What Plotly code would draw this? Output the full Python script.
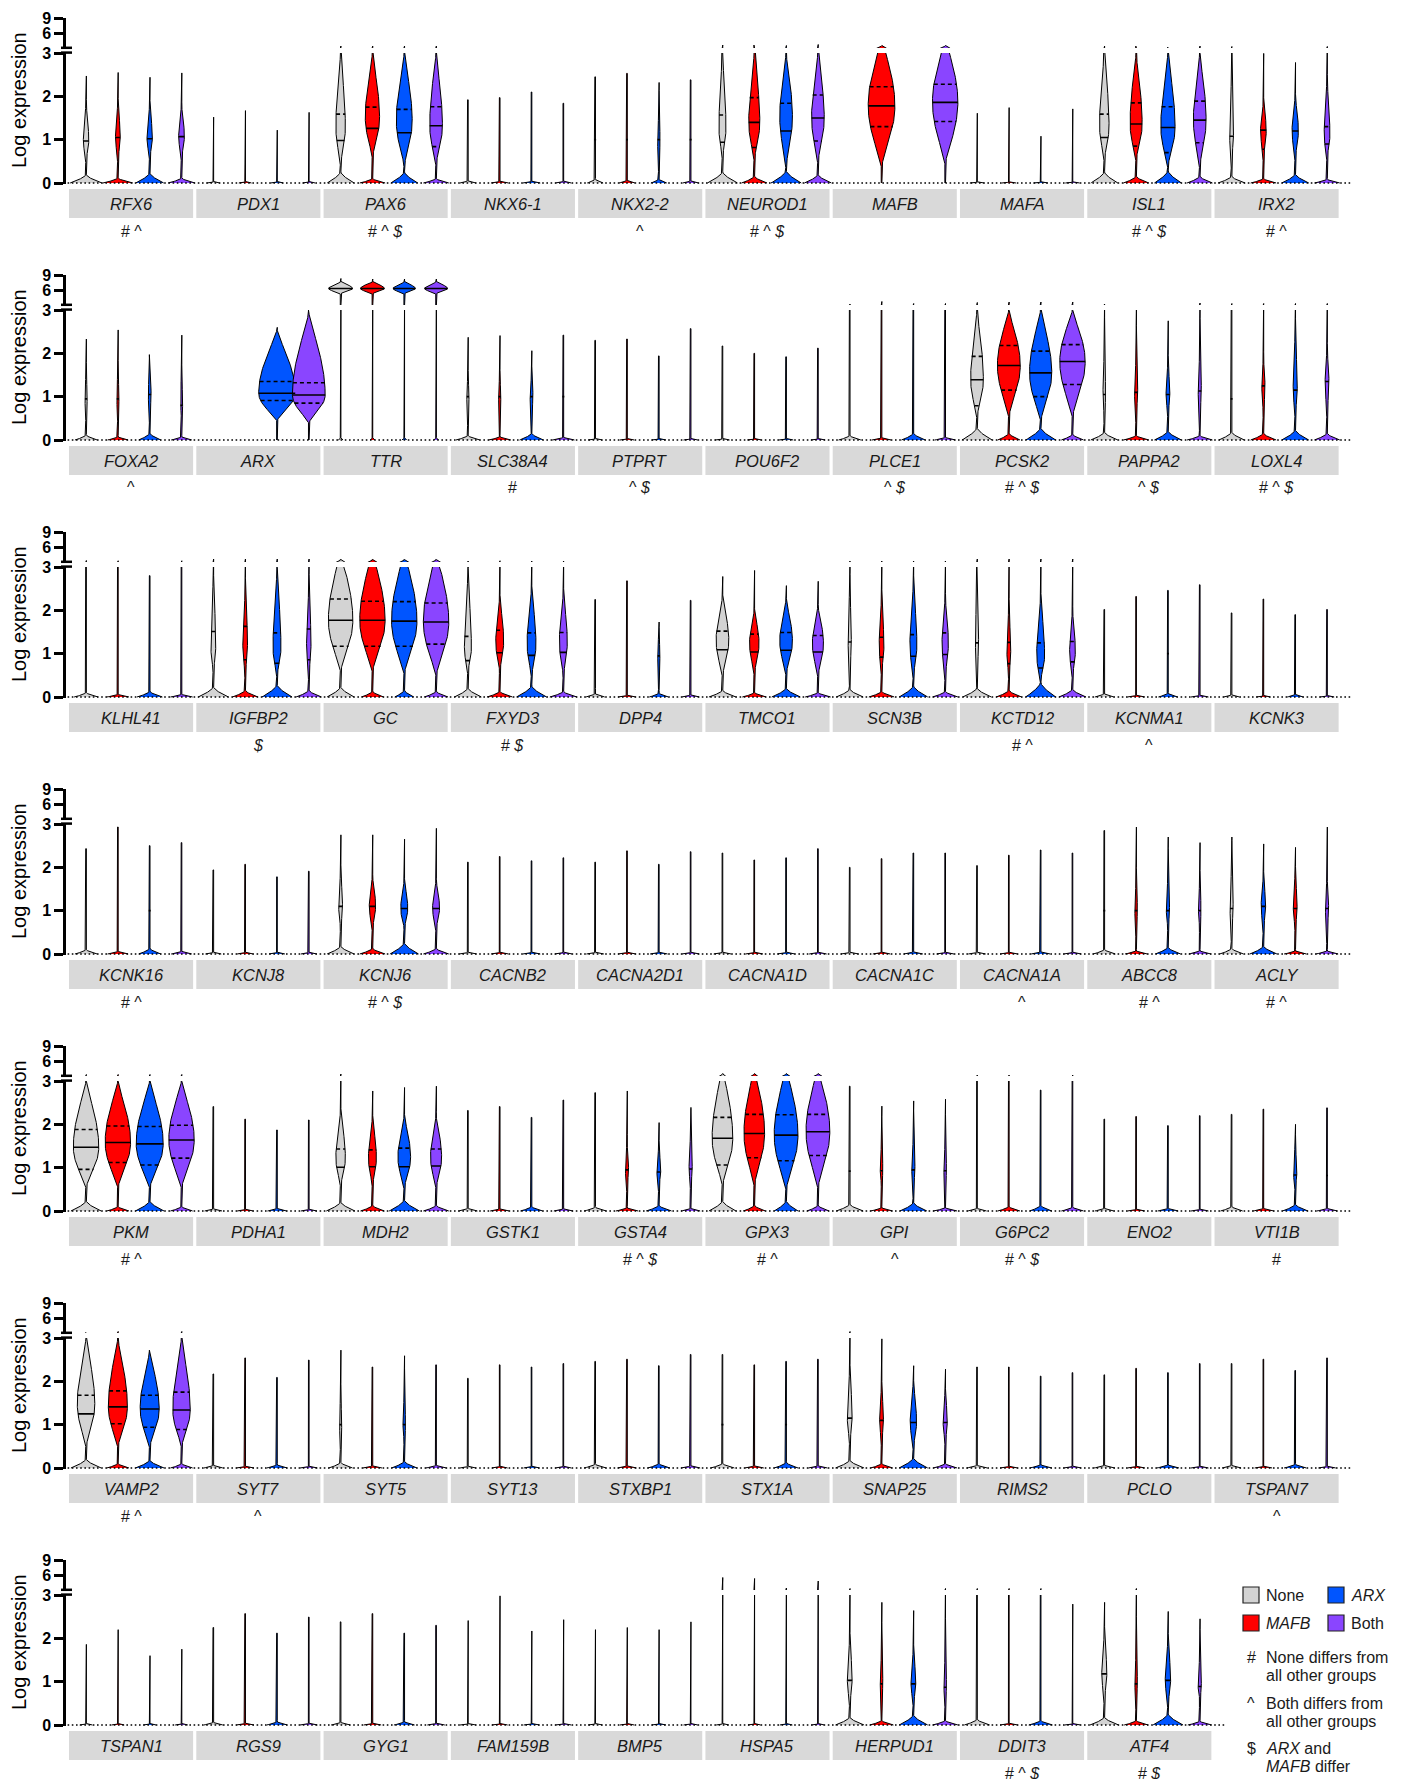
import numpy as np
import plotly.graph_objects as go

# ---------------- data ----------------
GROUPS = ["None", "MAFB", "ARX", "Both"]
COLORS = {"None": "#d3d3d3", "MAFB": "#ff0000", "ARX": "#0055ff", "Both": "#8a45ff"}
ORDER_OVERRIDE = {"ACLY": ["None", "ARX", "MAFB", "Both"]}

GENES = [
    ["RFX6", "PDX1", "PAX6", "NKX6-1", "NKX2-2", "NEUROD1", "MAFB", "MAFA", "ISL1", "IRX2"],
    ["FOXA2", "ARX", "TTR", "SLC38A4", "PTPRT", "POU6F2", "PLCE1", "PCSK2", "PAPPA2", "LOXL4"],
    ["KLHL41", "IGFBP2", "GC", "FXYD3", "DPP4", "TMCO1", "SCN3B", "KCTD12", "KCNMA1", "KCNK3"],
    ["KCNK16", "KCNJ8", "KCNJ6", "CACNB2", "CACNA2D1", "CACNA1D", "CACNA1C", "CACNA1A", "ABCC8", "ACLY"],
    ["PKM", "PDHA1", "MDH2", "GSTK1", "GSTA4", "GPX3", "GPI", "G6PC2", "ENO2", "VTI1B"],
    ["VAMP2", "SYT7", "SYT5", "SYT13", "STXBP1", "STX1A", "SNAP25", "RIMS2", "PCLO", "TSPAN7"],
    ["TSPAN1", "RGS9", "GYG1", "FAM159B", "BMP5", "HSPA5", "HERPUD1", "DDIT3", "ATF4"],
]
STATS = [
    ["# ^", "", "# ^ $", "", "^", "# ^ $", "", "", "# ^ $", "# ^"],
    ["^", "", "", "#", "^ $", "", "^ $", "# ^ $", "^ $", "# ^ $"],
    ["", "$", "", "# $", "", "", "", "# ^", "^", ""],
    ["# ^", "", "# ^ $", "", "", "", "", "^", "# ^", "# ^"],
    ["# ^", "", "", "", "# ^ $", "# ^", "^", "# ^ $", "", "#"],
    ["# ^", "^", "", "", "", "", "", "", "", "^"],
    ["", "", "", "", "", "", "", "# ^ $", "# $"],
]

# whisker top (log expression)
TOP = [
    [2.47, 2.55, 2.44, 2.54], [1.52, 1.67, 1.22, 1.63], [3.4, 3.4, 3.4, 3.4], [1.92, 1.97, 2.1, 1.84], [2.45, 2.53, 2.32, 2.38],
    [3.6, 3.6, 3.5, 3.7], [0, 3.5, 0, 3.5], [1.61, 1.74, 1.08, 1.71], [3.4, 3.4, 3.2, 3.4], [3.3, 2.99, 2.78, 3.3],
    [2.33, 2.54, 1.97, 2.42], [0, 0, 2.6, 3.0], [8.3, 8.2, 8.2, 8.2], [2.37, 2.41, 2.06, 2.42], [2.3, 2.33, 1.94, 2.57],
    [2.17, 2.0, 1.92, 2.12], [3.2, 3.7, 3.3, 3.3], [3.5, 3.6, 3.6, 3.6], [3.2, 3.0, 2.75, 3.4], [3.3, 3.3, 3.3, 3.3],
    [3.3, 3.25, 2.8, 3.25], [3.6, 3.6, 3.6, 3.6], [3.5, 3.5, 3.5, 3.5], [3.2, 3.25, 3.2, 3.2], [2.25, 2.68, 1.73, 2.23],
    [2.78, 2.92, 2.57, 2.67], [3.2, 3.2, 3.2, 3.2], [3.6, 3.6, 3.6, 3.6], [2.02, 2.32, 2.46, 2.59], [1.94, 2.26, 1.9, 2.02],
    [2.43, 2.93, 2.5, 2.57], [1.94, 2.07, 1.78, 1.91], [2.75, 2.75, 2.65, 2.9], [2.12, 2.25, 2.15, 2.22], [2.12, 2.38, 2.07, 2.36],
    [2.33, 2.17, 2.22, 2.43], [2.0, 2.2, 2.33, 2.33], [2.04, 2.28, 2.4, 2.33], [2.85, 2.93, 2.7, 2.57], [2.7, 2.54, 2.46, 2.93],
    [3.3, 3.3, 3.3, 3.3], [2.41, 2.12, 1.87, 2.1], [3.4, 2.77, 2.85, 2.88], [2.32, 2.41, 2.16, 2.56], [2.73, 2.77, 2.04, 2.39],
    [3.5, 3.5, 3.5, 3.5], [2.88, 2.42, 2.54, 2.58], [3.2, 3.2, 2.79, 3.2], [2.12, 2.18, 1.97, 2.2], [2.23, 2.35, 2.0, 2.38],
    [3.1, 3.3, 2.72, 3.3], [2.17, 2.54, 2.09, 2.49], [2.72, 2.33, 2.59, 2.38], [2.07, 2.38, 2.33, 2.41], [2.46, 2.51, 2.36, 2.62],
    [2.62, 2.38, 2.46, 2.51], [3.3, 2.98, 2.36, 2.28], [2.33, 2.33, 2.12, 2.2], [2.15, 2.3, 2.2, 2.41], [2.41, 2.51, 2.25, 2.54],
    [1.86, 2.2, 1.6, 1.75], [2.25, 2.57, 2.12, 2.49], [2.38, 2.57, 2.12, 2.3], [2.41, 2.98, 2.17, 2.43], [2.2, 2.25, 2.2, 2.38],
    [5.5, 5.3, 3.4, 4.8], [3.3, 2.83, 2.64, 3.3], [3.3, 3.3, 3.3, 2.79], [2.83, 3.3, 2.62, 2.45],
]
# zero-spike half width (fraction of half slot) and apparent height
ZW = [
    [1.0, 0.94, 0.88, 0.84], [0.4, 0.4, 0.4, 0.4], [0.85, 0.8, 0.85, 0.8], [0.5, 0.55, 0.55, 0.5], [0.5, 0.5, 0.5, 0.5],
    [0.95, 0.8, 0.95, 0.85], [0, 0, 0, 0], [0.45, 0.45, 0.45, 0.45], [0.85, 0.8, 0.85, 0.8], [0.85, 0.8, 0.85, 0.8],
    [0.7, 0.65, 0.7, 0.65], [0, 0, 0, 0], [0.15, 0.15, 0.15, 0.15], [0.75, 0.7, 0.75, 0.7], [0.45, 0.45, 0.45, 0.45],
    [0.45, 0.45, 0.45, 0.45], [0.7, 0.6, 0.75, 0.65], [0.95, 0.7, 0.95, 0.7], [0.85, 0.8, 0.85, 0.8], [0.8, 0.8, 0.85, 0.8],
    [0.75, 0.7, 0.8, 0.7], [0.95, 0.8, 0.95, 0.8], [0.85, 0.7, 0.6, 0.75], [0.85, 0.8, 0.95, 0.85], [0.6, 0.55, 0.6, 0.55],
    [0.85, 0.75, 0.9, 0.8], [0.85, 0.8, 0.9, 0.8], [0.9, 0.8, 0.95, 0.85], [0.6, 0.55, 0.6, 0.55], [0.5, 0.45, 0.5, 0.45],
    [0.7, 0.65, 0.7, 0.65], [0.5, 0.5, 0.5, 0.5], [0.85, 0.8, 0.9, 0.8], [0.55, 0.55, 0.55, 0.55], [0.55, 0.55, 0.55, 0.55],
    [0.55, 0.55, 0.55, 0.55], [0.55, 0.55, 0.6, 0.55], [0.55, 0.55, 0.6, 0.55], [0.7, 0.7, 0.8, 0.7], [0.75, 0.85, 0.7, 0.7],
    [0.95, 0.7, 0.9, 0.7], [0.55, 0.5, 0.6, 0.5], [0.9, 0.75, 0.95, 0.8], [0.6, 0.6, 0.7, 0.6], [0.7, 0.7, 0.8, 0.6],
    [0.85, 0.7, 0.75, 0.7], [0.85, 0.7, 0.85, 0.75], [0.6, 0.7, 0.7, 0.7], [0.6, 0.55, 0.65, 0.55], [0.7, 0.65, 0.8, 0.65],
    [0.95, 0.7, 0.9, 0.7], [0.6, 0.55, 0.65, 0.55], [0.75, 0.6, 0.8, 0.65], [0.5, 0.5, 0.5, 0.5], [0.7, 0.6, 0.7, 0.6],
    [0.75, 0.6, 0.75, 0.6], [0.9, 0.7, 0.9, 0.75], [0.65, 0.55, 0.7, 0.55], [0.65, 0.55, 0.7, 0.55], [0.6, 0.55, 0.7, 0.55],
    [0.4, 0.4, 0.4, 0.4], [0.6, 0.55, 0.65, 0.55], [0.6, 0.55, 0.65, 0.55], [0.5, 0.5, 0.5, 0.5], [0.45, 0.45, 0.45, 0.45],
    [0.4, 0.4, 0.4, 0.4], [0.9, 0.75, 0.9, 0.8], [0.8, 0.55, 0.75, 0.5], [0.9, 0.75, 0.95, 0.75],
]
ZH = [
    [0.15, 0.09, 0.18, 0.09], [0.02, 0.02, 0.02, 0.02], [0.2, 0.08, 0.2, 0.08], [0.04, 0.03, 0.03, 0.03], [0.07, 0.05, 0.07, 0.04],
    [0.2, 0.12, 0.22, 0.15], [0, 0, 0, 0], [0.015, 0.015, 0.015, 0.015], [0.2, 0.12, 0.22, 0.12], [0.12, 0.08, 0.16, 0.07],
    [0.09, 0.06, 0.12, 0.06], [0, 0, 0, 0], [0.04, 0.04, 0.04, 0.04], [0.08, 0.06, 0.12, 0.05], [0.02, 0.02, 0.02, 0.02],
    [0.02, 0.02, 0.02, 0.02], [0.08, 0.04, 0.12, 0.05], [0.22, 0.12, 0.22, 0.1], [0.14, 0.08, 0.16, 0.08], [0.14, 0.12, 0.18, 0.12],
    [0.08, 0.05, 0.1, 0.05], [0.18, 0.12, 0.22, 0.12], [0.18, 0.1, 0.12, 0.1], [0.16, 0.1, 0.2, 0.1], [0.06, 0.03, 0.07, 0.04],
    [0.12, 0.08, 0.16, 0.08], [0.14, 0.1, 0.2, 0.1], [0.16, 0.12, 0.26, 0.14], [0.06, 0.03, 0.07, 0.03], [0.04, 0.02, 0.05, 0.02],
    [0.08, 0.05, 0.1, 0.05], [0.03, 0.03, 0.03, 0.03], [0.14, 0.1, 0.2, 0.1], [0.03, 0.03, 0.03, 0.03], [0.03, 0.03, 0.03, 0.03],
    [0.03, 0.03, 0.03, 0.03], [0.03, 0.03, 0.04, 0.03], [0.03, 0.03, 0.04, 0.03], [0.08, 0.06, 0.12, 0.06], [0.1, 0.14, 0.06, 0.06],
    [0.18, 0.08, 0.18, 0.08], [0.04, 0.03, 0.05, 0.03], [0.16, 0.1, 0.2, 0.1], [0.05, 0.04, 0.08, 0.04], [0.07, 0.06, 0.1, 0.05],
    [0.18, 0.1, 0.18, 0.1], [0.12, 0.06, 0.15, 0.06], [0.05, 0.08, 0.1, 0.07], [0.05, 0.03, 0.05, 0.03], [0.08, 0.05, 0.12, 0.05],
    [0.16, 0.08, 0.14, 0.08], [0.05, 0.03, 0.06, 0.03], [0.1, 0.04, 0.12, 0.05], [0.03, 0.03, 0.03, 0.03], [0.07, 0.04, 0.08, 0.04],
    [0.08, 0.04, 0.1, 0.04], [0.14, 0.08, 0.18, 0.08], [0.05, 0.03, 0.06, 0.03], [0.05, 0.03, 0.06, 0.03], [0.05, 0.03, 0.07, 0.03],
    [0.02, 0.02, 0.02, 0.02], [0.05, 0.03, 0.06, 0.03], [0.05, 0.03, 0.06, 0.03], [0.02, 0.02, 0.02, 0.02], [0.02, 0.02, 0.02, 0.02],
    [0.02, 0.02, 0.02, 0.02], [0.14, 0.08, 0.18, 0.08], [0.1, 0.03, 0.08, 0.02], [0.14, 0.08, 0.2, 0.07],
]
# body: max half width (fraction of half slot), lower / upper extent
BW = [
    [0.17, 0.15, 0.17, 0.18], [0, 0, 0, 0], [0.3, 0.45, 0.5, 0.4], [0.05, 0.03, 0.04, 0.03], [0.06, 0.06, 0.08, 0.06],
    [0.22, 0.35, 0.4, 0.4], [0, 0.84, 0, 0.8], [0, 0, 0, 0], [0.3, 0.38, 0.45, 0.4], [0.12, 0.18, 0.2, 0.18],
    [0.07, 0.07, 0.09, 0.07], [0, 0, 1.15, 1.03], [0.75, 0.75, 0.7, 0.72], [0.07, 0.07, 0.09, 0.06], [0.03, 0.03, 0.03, 0.03],
    [0.03, 0.03, 0.03, 0.03], [0.04, 0.04, 0.04, 0.04], [0.4, 0.72, 0.7, 0.8], [0.08, 0.1, 0.12, 0.1], [0.06, 0.1, 0.13, 0.12],
    [0.04, 0.04, 0.04, 0.04], [0.15, 0.15, 0.25, 0.14], [0.77, 0.8, 0.8, 0.8], [0.22, 0.25, 0.28, 0.25], [0.04, 0.04, 0.07, 0.04],
    [0.4, 0.3, 0.4, 0.35], [0.1, 0.15, 0.22, 0.2], [0.1, 0.12, 0.25, 0.18], [0.04, 0.04, 0.06, 0.04], [0.03, 0.03, 0.03, 0.03],
    [0.05, 0.05, 0.06, 0.05], [0.03, 0.03, 0.03, 0.03], [0.12, 0.2, 0.22, 0.22], [0.03, 0.03, 0.03, 0.03], [0.03, 0.03, 0.03, 0.03],
    [0.03, 0.03, 0.03, 0.03], [0.03, 0.03, 0.03, 0.03], [0.03, 0.03, 0.03, 0.03], [0.06, 0.08, 0.1, 0.08], [0.1, 0.14, 0.12, 0.1],
    [0.8, 0.8, 0.85, 0.8], [0.04, 0.04, 0.04, 0.04], [0.3, 0.25, 0.4, 0.35], [0.04, 0.04, 0.04, 0.04], [0.04, 0.1, 0.12, 0.1],
    [0.65, 0.65, 0.75, 0.75], [0.06, 0.08, 0.1, 0.08], [0.04, 0.04, 0.04, 0.04], [0.03, 0.03, 0.03, 0.03], [0.05, 0.05, 0.1, 0.06],
    [0.55, 0.6, 0.6, 0.55], [0.04, 0.04, 0.04, 0.04], [0.07, 0.04, 0.08, 0.05], [0.03, 0.03, 0.03, 0.03], [0.05, 0.05, 0.05, 0.05],
    [0.06, 0.04, 0.06, 0.04], [0.15, 0.12, 0.2, 0.13], [0.04, 0.04, 0.04, 0.04], [0.04, 0.04, 0.04, 0.04], [0.04, 0.04, 0.04, 0.04],
    [0, 0, 0, 0], [0.04, 0.04, 0.04, 0.04], [0.04, 0.04, 0.04, 0.04], [0.02, 0.02, 0.02, 0.02], [0.02, 0.02, 0.02, 0.02],
    [0, 0, 0, 0], [0.15, 0.08, 0.15, 0.08], [0.04, 0.03, 0.03, 0.02], [0.16, 0.08, 0.17, 0.1],
]
LO = [
    [0.55, 0.55, 0.6, 0.6], [0.6, 0.6, 0.6, 0.6], [0.45, 0.6, 0.4, 0.45], [0.6, 0.6, 0.6, 0.6], [0.5, 0.5, 0.5, 0.5],
    [0.6, 0.55, 0.4, 0.5], [0, 0.38, 0, 0.45], [0.6, 0.6, 0.6, 0.6], [0.55, 0.55, 0.4, 0.4], [0.6, 0.6, 0.6, 0.6],
    [0.6, 0.6, 0.6, 0.6], [0, 0, 0.45, 0.4], [5.3, 5.3, 5.3, 5.3], [0.6, 0.6, 0.6, 0.6], [0.6, 0.6, 0.6, 0.6],
    [0.6, 0.6, 0.6, 0.6], [0.6, 0.6, 0.6, 0.6], [0.55, 0.55, 0.45, 0.55], [0.5, 0.6, 0.6, 0.6], [0.6, 0.6, 0.6, 0.6],
    [0.6, 0.6, 0.6, 0.6], [0.6, 0.5, 0.5, 0.5], [0.6, 0.6, 0.55, 0.5], [0.6, 0.6, 0.5, 0.5], [0.6, 0.6, 0.6, 0.6],
    [0.5, 0.55, 0.55, 0.5], [0.6, 0.6, 0.5, 0.5], [0.6, 0.5, 0.4, 0.5], [0.6, 0.6, 0.6, 0.6], [0.6, 0.6, 0.6, 0.6],
    [0.6, 0.6, 0.6, 0.6], [0.6, 0.6, 0.6, 0.6], [0.6, 0.6, 0.6, 0.6], [0.6, 0.6, 0.6, 0.6], [0.6, 0.6, 0.6, 0.6],
    [0.6, 0.6, 0.6, 0.6], [0.6, 0.6, 0.6, 0.6], [0.6, 0.6, 0.6, 0.6], [0.6, 0.6, 0.6, 0.6], [0.6, 0.6, 0.6, 0.6],
    [0.55, 0.55, 0.55, 0.55], [0.6, 0.6, 0.6, 0.6], [0.6, 0.6, 0.55, 0.55], [0.6, 0.6, 0.6, 0.6], [0.6, 0.6, 0.6, 0.6],
    [0.6, 0.6, 0.5, 0.55], [0.6, 0.6, 0.6, 0.6], [0.6, 0.6, 0.6, 0.6], [0.6, 0.6, 0.6, 0.6], [0.6, 0.6, 0.6, 0.6],
    [0.5, 0.5, 0.5, 0.5], [0.6, 0.6, 0.6, 0.6], [0.6, 0.6, 0.6, 0.6], [0.6, 0.6, 0.6, 0.6], [0.6, 0.6, 0.6, 0.6],
    [0.6, 0.6, 0.6, 0.6], [0.6, 0.6, 0.5, 0.6], [0.6, 0.6, 0.6, 0.6], [0.6, 0.6, 0.6, 0.6], [0.6, 0.6, 0.6, 0.6],
    [0.6, 0.6, 0.6, 0.6], [0.6, 0.6, 0.6, 0.6], [0.6, 0.6, 0.6, 0.6], [0.6, 0.6, 0.6, 0.6], [0.6, 0.6, 0.6, 0.6],
    [0.6, 0.6, 0.6, 0.6], [0.5, 0.6, 0.5, 0.6], [0.6, 0.6, 0.6, 0.6], [0.6, 0.6, 0.5, 0.6],
]
HI = [
    [1.85, 1.85, 1.8, 1.8], [1.5, 1.5, 1.5, 1.5], [3.0, 3.0, 3.0, 3.0], [1.5, 1.5, 1.5, 1.5], [1.6, 1.6, 1.6, 1.6],
    [3.0, 3.0, 3.0, 3.0], [0, 3.4, 0, 3.4], [1.5, 1.5, 1.5, 1.5], [3.0, 3.0, 3.0, 3.0], [2.5, 1.85, 2.0, 2.4],
    [1.6, 1.6, 1.6, 1.6], [0, 0, 2.55, 2.95], [7.6, 7.6, 7.6, 7.6], [1.5, 1.5, 1.5, 1.5], [1.5, 1.5, 1.5, 1.5],
    [1.5, 1.5, 1.5, 1.5], [1.5, 1.5, 1.5, 1.5], [3.0, 3.0, 3.0, 3.0], [2.1, 1.9, 1.8, 2.0], [2.4, 1.9, 2.5, 2.1],
    [1.5, 1.5, 1.5, 1.5], [2.8, 2.4, 2.9, 2.5], [3.4, 3.4, 3.4, 3.4], [2.8, 2.3, 2.5, 2.4], [1.5, 1.5, 1.5, 1.5],
    [2.3, 2.0, 2.25, 2.1], [2.6, 2.3, 2.6, 2.3], [2.6, 2.1, 2.3, 2.0], [1.5, 1.5, 1.5, 1.5], [1.5, 1.5, 1.5, 1.5],
    [1.6, 1.6, 1.6, 1.6], [1.5, 1.5, 1.5, 1.5], [1.9, 1.8, 1.7, 1.7], [1.5, 1.5, 1.5, 1.5], [1.5, 1.5, 1.5, 1.5],
    [1.5, 1.5, 1.5, 1.5], [1.5, 1.5, 1.5, 1.5], [1.5, 1.5, 1.5, 1.5], [1.7, 1.7, 1.8, 1.7], [2.0, 1.8, 1.9, 1.8],
    [3.0, 3.0, 3.0, 3.0], [1.5, 1.5, 1.5, 1.5], [2.3, 2.15, 2.2, 2.2], [1.5, 1.5, 1.5, 1.5], [1.6, 1.6, 1.5, 1.8],
    [3.35, 3.35, 3.35, 3.35], [1.8, 1.6, 1.7, 1.6], [1.5, 1.5, 1.5, 1.5], [1.5, 1.5, 1.5, 1.5], [1.5, 1.5, 1.6, 1.5],
    [3.0, 3.0, 2.7, 3.0], [1.5, 1.5, 1.5, 1.5], [1.7, 1.5, 1.7, 1.5], [1.5, 1.5, 1.5, 1.5], [1.6, 1.6, 1.6, 1.6],
    [1.6, 1.6, 1.6, 1.6], [2.3, 1.9, 2.0, 1.8], [1.5, 1.5, 1.5, 1.5], [1.5, 1.5, 1.5, 1.5], [1.5, 1.5, 1.5, 1.5],
    [1.5, 1.5, 1.5, 1.5], [1.5, 1.5, 1.5, 1.5], [1.5, 1.5, 1.5, 1.5], [1.5, 1.5, 1.5, 1.5], [1.5, 1.5, 1.5, 1.5],
    [1.5, 1.5, 1.5, 1.5], [2.0, 1.7, 1.75, 1.65], [1.5, 1.5, 1.5, 1.5], [2.1, 1.7, 1.95, 1.6],
]
MED = [
    [0.97, 1.05, 1.02, 1.07], [0, 0, 0, 0], [0.98, 1.26, 1.16, 1.32], [1.0, 1.0, 1.0, 1.0], [1.0, 1.0, 1.0, 1.0],
    [0.94, 1.4, 1.2, 1.5], [0, 1.78, 0, 1.86], [0, 0, 0, 0], [1.05, 1.36, 1.28, 1.45], [1.08, 1.22, 1.2, 0.9],
    [0.95, 0.95, 1.05, 0.8], [0, 0, 1.08, 1.04], [6.3, 6.3, 6.3, 6.3], [1.0, 1.0, 1.0, 1.0], [1.0, 1.0, 1.0, 1.0],
    [1.0, 1.0, 1.0, 1.0], [1.0, 1.0, 1.0, 1.0], [1.39, 1.72, 1.55, 1.81], [1.05, 1.1, 1.05, 1.13], [0.95, 1.25, 1.15, 1.35],
    [1.0, 1.0, 1.0, 1.0], [0.74, 0.86, 0.78, 0.86], [1.77, 1.77, 1.75, 1.73], [0.84, 1.02, 0.96, 1.03], [1.0, 1.0, 0.95, 1.0],
    [1.09, 1.04, 1.08, 1.04], [1.27, 0.92, 0.94, 0.98], [1.25, 0.77, 0.67, 0.81], [1.0, 1.0, 1.0, 1.0], [1.0, 1.0, 1.0, 1.0],
    [1.0, 1.0, 1.0, 1.0], [1.0, 1.0, 1.0, 1.0], [1.1, 1.1, 1.05, 1.05], [1.0, 1.0, 1.0, 1.0], [1.0, 1.0, 1.0, 1.0],
    [1.0, 1.0, 1.0, 1.0], [1.0, 1.0, 1.0, 1.0], [1.0, 1.0, 1.0, 1.0], [1.0, 1.0, 1.0, 1.0], [1.05, 1.1, 1.05, 1.05],
    [1.47, 1.58, 1.55, 1.64], [1.0, 1.0, 1.0, 1.0], [1.01, 1.02, 1.02, 1.04], [1.0, 1.0, 1.0, 1.0], [0.85, 0.95, 0.9, 0.97],
    [1.68, 1.79, 1.75, 1.83], [0.92, 0.93, 0.95, 0.93], [1.0, 1.0, 1.0, 1.0], [1.0, 1.0, 1.0, 1.0], [0.95, 1.0, 0.83, 0.82],
    [1.25, 1.41, 1.36, 1.34], [0.95, 0.95, 0.95, 0.95], [1.0, 1.0, 1.0, 1.0], [1.0, 1.0, 1.0, 1.0], [1.0, 1.0, 1.0, 1.0],
    [1.0, 1.0, 1.0, 1.0], [1.15, 1.1, 1.05, 1.05], [1.0, 1.0, 1.0, 1.0], [1.0, 1.0, 1.0, 1.0], [1.0, 1.0, 1.0, 1.0],
    [0, 0, 0, 0], [1.0, 1.0, 1.0, 1.0], [1.0, 1.0, 1.0, 1.0], [1.0, 1.0, 1.0, 1.0], [1.0, 1.0, 1.0, 1.0],
    [0, 0, 0, 0], [1.03, 0.95, 0.95, 0.87], [1.0, 1.0, 0.95, 1.0], [1.18, 0.95, 1.03, 0.89],
]
Q1 = [
    [0, 0, 0, 0], [0, 0, 0, 0], [0, 0, 0, 0.84], [0, 0, 0, 0], [0, 0, 0, 0],
    [0, 0.82, 0, 0.97], [0, 1.3, 0, 1.42], [0, 0, 0, 0], [0, 0.85, 0.7, 0.93], [0, 0.78, 0.68, 0],
    [0, 0, 0, 0], [0, 0, 0.91, 0.85], [0, 0, 0, 0], [0, 0, 0, 0], [0, 0, 0, 0],
    [0, 0, 0, 0], [0, 0, 0, 0], [0.79, 1.15, 1.0, 1.28], [0, 0, 0, 0], [0, 0, 0, 0],
    [0, 0, 0, 0], [0, 0, 0, 0], [1.17, 1.17, 1.17, 1.22], [0, 0, 0, 0], [0, 0, 0, 0],
    [0, 0, 0, 0], [0, 0, 0, 0], [0, 0, 0, 0], [0, 0, 0, 0], [0, 0, 0, 0],
    [0, 0, 0, 0], [0, 0, 0, 0], [0, 0, 0, 0], [0, 0, 0, 0], [0, 0, 0, 0],
    [0, 0, 0, 0], [0, 0, 0, 0], [0, 0, 0, 0], [0, 0, 0, 0], [0, 0, 0, 0],
    [0.96, 1.12, 1.06, 1.22], [0, 0, 0, 0], [0, 0, 0, 0], [0, 0, 0, 0], [0, 0, 0, 0],
    [1.06, 1.23, 1.16, 1.28], [0, 0, 0, 0], [0, 0, 0, 0], [0, 0, 0, 0], [0, 0, 0, 0],
    [0, 1.02, 0.94, 0.89], [0, 0, 0, 0], [0, 0, 0, 0], [0, 0, 0, 0], [0, 0, 0, 0],
    [0, 0, 0, 0], [0, 0, 0, 0], [0, 0, 0, 0], [0, 0, 0, 0], [0, 0, 0, 0],
    [0, 0, 0, 0], [0, 0, 0, 0], [0, 0, 0, 0], [0, 0, 0, 0], [0, 0, 0, 0],
    [0, 0, 0, 0], [0, 0, 0, 0], [0, 0, 0, 0], [0, 0, 0, 0],
]
Q3 = [
    [0, 0, 0, 0], [0, 0, 0, 0], [1.59, 1.75, 1.7, 1.76], [0, 0, 0, 0], [0, 0, 0, 0],
    [1.57, 1.97, 1.84, 2.03], [0, 2.22, 0, 2.28], [0, 0, 0, 0], [1.59, 1.85, 1.76, 1.89], [0, 0, 0, 1.3],
    [0, 0, 0, 0], [0, 0, 1.35, 1.32], [0, 0, 0, 0], [0, 0, 0, 0], [0, 0, 0, 0],
    [0, 0, 0, 0], [0, 0, 0, 0], [1.93, 2.18, 2.05, 2.2], [0, 0, 0, 0], [0, 0, 0, 0],
    [0, 0, 0, 0], [1.51, 1.63, 1.48, 1.57], [2.26, 2.21, 2.2, 2.17], [1.4, 1.54, 1.48, 1.49], [0, 0, 0, 0],
    [1.52, 1.45, 1.49, 1.42], [0, 1.38, 1.44, 1.48], [0, 1.26, 1.25, 1.28], [0, 0, 0, 0], [0, 0, 0, 0],
    [0, 0, 0, 0], [0, 0, 0, 0], [0, 0, 0, 0], [0, 0, 0, 0], [0, 0, 0, 0],
    [0, 0, 0, 0], [0, 0, 0, 0], [0, 0, 0, 0], [0, 0, 0, 0], [0, 0, 0, 0],
    [1.88, 1.96, 1.95, 1.98], [0, 0, 0, 0], [1.43, 1.41, 1.45, 1.43], [0, 0, 0, 0], [0, 0, 0, 0],
    [2.16, 2.23, 2.22, 2.23], [0, 0, 0, 0], [0, 0, 0, 0], [0, 0, 0, 0], [0, 0, 0, 0],
    [1.68, 1.78, 1.68, 1.75], [0, 0, 0, 0], [0, 0, 0, 0], [0, 0, 0, 0], [0, 0, 0, 0],
    [0, 0, 0, 0], [0, 0, 0, 0], [0, 0, 0, 0], [0, 0, 0, 0], [0, 0, 0, 0],
    [0, 0, 0, 0], [0, 0, 0, 0], [0, 0, 0, 0], [0, 0, 0, 0], [0, 0, 0, 0],
    [0, 0, 0, 0], [0, 0, 0, 0], [0, 0, 0, 0], [0, 0, 0, 0],
]
LOWER_TICKS = [0, 1, 2, 3]
UPPER_TICKS = [6, 9]

# ---------------- geometry (reference pixels; page body adds 8 px) ----------------
W, H = 1410, 1779
PAGE_OFF = 8
ROW_STEP = 257
X_AXIS_PX = 66.0
SLOT_PX = 31.82
X0_DATA = -0.63
X1_DATA = 40.0
MINW = 0.02
BREAK = 3.0
FONT = "Arial, Liberation Sans, sans-serif"


def py(p):
    return 1 - (p - PAGE_OFF) / H


def pxp(p):
    return (p - PAGE_OFF) / W


def half_width(y, zw, zh, bw, lo, hi, pk):
    w = np.full_like(y, MINW)
    if zw > 0 and zh > 0:
        s = np.clip(1 - y / (1.3 * zh), 0, None)
        w = np.maximum(w, zw * s ** 1.5)
    if bw > 0 and hi > lo:
        pk = min(max(pk, lo + 0.05 * (hi - lo)), hi - 0.05 * (hi - lo))
        u = np.where(y <= pk, (y - lo) / (pk - lo), (hi - y) / (hi - pk))
        u = np.clip(u, 0, 1)
        w = np.maximum(w, bw * (0.5 - 0.5 * np.cos(np.pi * u)) ** 0.6)
    return 0.5 * w


fig = go.Figure()
layout = {}
shapes = []
annotations = []

gi = 0
for r, genes in enumerate(GENES):
    off = r * ROW_STEP
    xname = "x" if r == 0 else f"x{r + 1}"
    xkey = "xaxis" if r == 0 else f"xaxis{r + 1}"
    ylo_i, yup_i = 2 * r + 1, 2 * r + 2
    ylo_name = "y" if ylo_i == 1 else f"y{ylo_i}"
    yup_name = f"y{yup_i}"
    ylo_key = "yaxis" if ylo_i == 1 else f"yaxis{ylo_i}"
    yup_key = f"yaxis{yup_i}"

    x_end_px = X_AXIS_PX + (X1_DATA - X0_DATA) * SLOT_PX
    layout[xkey] = dict(domain=[pxp(X_AXIS_PX), pxp(x_end_px)], range=[X0_DATA, X1_DATA],
                        visible=False, anchor=ylo_name, automargin=False)
    axis_common = dict(showline=True, linecolor="black", linewidth=2.5, ticks="outside",
                       ticklen=9, tickwidth=2.5, tickcolor="black", showgrid=False,
                       zeroline=False, anchor=xname, automargin=False,
                       tickfont=dict(family=FONT, size=16, color="black"))
    layout[ylo_key] = dict(domain=[py(184.3 + off), py(53 + off)], range=[-0.03, 3],
                           tickvals=LOWER_TICKS, ticktext=[f"<b>{v}</b>" for v in LOWER_TICKS], **axis_common)
    layout[yup_key] = dict(domain=[py(48 + off), py(18 + off)], range=[3, 9],
                           tickvals=UPPER_TICKS, ticktext=[f"<b>{v}</b>" for v in UPPER_TICKS], **axis_common)

    polys = {g: {"lo": ([], []), "up": ([], [])} for g in GROUPS}
    med_seg = {"lo": ([], []), "up": ([], [])}
    q_seg = {"lo": ([], []), "up": ([], [])}

    for g, gene in enumerate(genes):
        order = ORDER_OVERRIDE.get(gene, GROUPS)
        for k in range(4):
            top = TOP[gi][k]
            if top <= 0:
                continue
            c = g * 4 + k
            zw, zh, bw = ZW[gi][k], ZH[gi][k], BW[gi][k]
            lo, hi, med = LO[gi][k], HI[gi][k], MED[gi][k]
            q1, q3 = Q1[gi][k], Q3[gi][k]
            if med <= 0:
                pk = 0.5 * (lo + hi)
            elif q1 <= 0 and q3 > 0:
                pk = 0.5 * (med + q3)
            else:
                pk = med
            prm = (zw, zh, bw, lo, hi, pk)
            grp = order[k]
            segs = [("lo", 0.0, min(top, BREAK + 0.3))]
            if top > BREAK:
                segs.append(("up", BREAK - 0.1, top))
            for part, a, b in segs:
                ys = np.linspace(a, b, 260)
                if a < 0.4:
                    ys = np.unique(np.concatenate([ys, np.linspace(a, min(b, 0.4), 60)]))
                hw = half_width(ys, *prm)
                xs = np.concatenate([c + hw, (c - hw)[::-1]])
                yy = np.concatenate([ys, ys[::-1]])
                px_list, py_list = polys[grp][part]
                px_list.extend(xs.tolist() + [None])
                py_list.extend(yy.tolist() + [None])
            for val, store in ((med, med_seg), (q1, q_seg), (q3, q_seg)):
                if val and val > 0 and val < top:
                    hw = float(half_width(np.array([val]), *prm)[0])
                    if hw < 0.03:
                        continue
                    part = "lo" if val <= BREAK else "up"
                    store[part][0].extend([c - hw, c + hw, None])
                    store[part][1].extend([val, val, None])
        # gene strip + labels
        sx0 = g * 4 - 0.535
        sx1 = g * 4 + 3.365
        shapes.append(dict(type="rect", xref=xname, yref="paper", x0=sx0, x1=sx1,
                           y0=py(218 + off), y1=py(189 + off), fillcolor="#d9d9d9",
                           line=dict(width=0), layer="below"))
        annotations.append(dict(x=(sx0 + sx1) / 2, y=py(204 + off), xref=xname, yref="paper",
                                text=f"<i>{gene}</i>", showarrow=False, xanchor="center", yanchor="middle",
                                font=dict(family=FONT, size=16.5, color="#1a1a1a")))
        st = STATS[r][g]
        if st:
            st_html = st.replace("$", "<i>$</i>")
            annotations.append(dict(x=(sx0 + sx1) / 2, y=py(231 + off), xref=xname, yref="paper",
                                    text=st_html, showarrow=False, xanchor="center", yanchor="middle",
                                    font=dict(family=FONT, size=16, color="#1a1a1a")))
        gi += 1

    # keep the upper (broken) axis alive even when nothing exceeds 3
    fig.add_trace(go.Scatter(x=[None], y=[None], xaxis=xname, yaxis=yup_name, mode="lines",
                             hoverinfo="skip", showlegend=False))
    for grp in GROUPS:
        for part, yname in (("lo", ylo_name), ("up", yup_name)):
            xs, ys = polys[grp][part]
            if not xs:
                continue
            fig.add_trace(go.Scatter(x=xs, y=ys, xaxis=xname, yaxis=yname, mode="lines",
                                     fill="toself", fillcolor=COLORS[grp],
                                     line=dict(color="black", width=1), hoverinfo="skip",
                                     showlegend=False, name=grp))
    for part, yname in (("lo", ylo_name), ("up", yup_name)):
        if med_seg[part][0]:
            fig.add_trace(go.Scatter(x=med_seg[part][0], y=med_seg[part][1], xaxis=xname, yaxis=yname,
                                     mode="lines", line=dict(color="black", width=1.6),
                                     hoverinfo="skip", showlegend=False))
        if q_seg[part][0]:
            fig.add_trace(go.Scatter(x=q_seg[part][0], y=q_seg[part][1], xaxis=xname, yaxis=yname,
                                     mode="lines", line=dict(color="black", width=1.6, dash="4px,3px"),
                                     hoverinfo="skip", showlegend=False))
    # dotted zero line
    fig.add_trace(go.Scatter(x=[X0_DATA + 0.05, len(genes) * 4 - 0.2], y=[0, 0], xaxis=xname, yaxis=ylo_name,
                             mode="lines", line=dict(color="black", width=1.6, dash="1.6px,2.6px"),
                             hoverinfo="skip", showlegend=False))
    # axis break marks
    for yb in (47.8, 52.6):
        shapes.append(dict(type="line", xref="paper", yref="paper", x0=pxp(61), x1=pxp(72),
                           y0=py(yb + off), y1=py(yb + off), line=dict(color="black", width=2.5)))
    # axis title
    annotations.append(dict(x=pxp(19), y=py(100 + off), xref="paper", yref="paper", text="Log expression",
                            textangle=-90, showarrow=False, xanchor="center", yanchor="middle",
                            font=dict(family=FONT, size=20, color="black")))

# ---------------- legend ----------------
LEG_FONT = dict(family=FONT, size=16, color="#1a1a1a")
swatches = [("None", 1243, 1587, "None"), ("ARX", 1328, 1587, "<i>ARX</i>"),
            ("MAFB", 1243, 1615, "<i>MAFB</i>"), ("Both", 1328, 1615, "Both")]
for grp, sx, sy, label in swatches:
    shapes.append(dict(type="rect", xref="paper", yref="paper", x0=pxp(sx), x1=pxp(sx + 16),
                       y0=py(sy + 16), y1=py(sy), fillcolor=COLORS[grp], line=dict(color="#222", width=1.2)))
    annotations.append(dict(x=pxp(sx + 21), y=py(sy + 8), xref="paper", yref="paper", text=label,
                            showarrow=False, xanchor="left", yanchor="middle", font=LEG_FONT))
notes = [("#", ["None differs from", "all other groups"], 1657),
         ("^", ["Both differs from", "all other groups"], 1703),
         ("$", ["<i>ARX</i> and", "<i>MAFB</i> differ"], 1748)]
for sym, lines, y0 in notes:
    annotations.append(dict(x=pxp(1251), y=py(y0), xref="paper", yref="paper", text=sym, showarrow=False,
                            xanchor="center", yanchor="middle", font=LEG_FONT))
    for j, t in enumerate(lines):
        annotations.append(dict(x=pxp(1264), y=py(y0 + 18.5 * j), xref="paper", yref="paper", text=t,
                                showarrow=False, xanchor="left", yanchor="middle", font=LEG_FONT))

fig.update_layout(width=W, height=H, margin=dict(l=0, r=0, t=0, b=0, autoexpand=False),
                  paper_bgcolor="white", plot_bgcolor="white", showlegend=False,
                  shapes=shapes, annotations=annotations, **layout)
fig.write_html("out.html")
